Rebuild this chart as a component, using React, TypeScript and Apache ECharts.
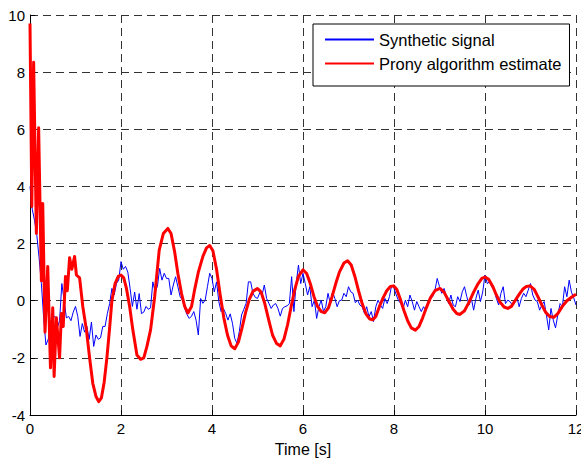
import React, { useEffect, useRef } from "react";
import * as echarts from "echarts";

const FONT = "'Liberation Sans', Arial, Helvetica, sans-serif";

const xTicks = [0, 2, 4, 6, 8, 10, 12];
const yTicks = [-4, -2, 0, 2, 4, 6, 8, 10];
const seriesNames = ["Synthetic signal", "Prony algorithm estimate"];
const seriesColors = ["#0000ff", "#ff0000"];

// Synthetic signal, sampled every 0.05 s from 0 to 12 s
const DT = 0.05;
const syntheticSignal = [
  // 0 - 1 s
  4.0, 3.2, 2.8, 2.3, 1.5, 0.6, -0.6, -1.55, -1.35, -1.0,
  -0.6, -0.55, -0.95, -0.7, 0.6, 0.0, -0.6, -0.55, -0.7, -0.4,
  // 1 - 2 s
  -0.2, -0.55, -1.25, -0.8, -1.1, -0.9, -1.35, -0.75, -1.6, -1.2,
  -1.35, -1.3, -0.9, -0.9, -0.45, -0.1, 0.43, 0.2, 0.6, 0.72,
  // 2 - 3 s
  1.37, 1.1, 1.2, 1.0, 0.43, -0.2, 0.3, -0.3, 0.25, -0.45,
  -0.4, -0.2, -0.3, -0.25, 0.66, 0.31, 0.5, 1.13, 0.72, 0.96,
  // 3 - 4 s
  0.78, 0.78, 0.2, 0.55, 0.84, 0.49, 0.14, 0.02, -0.27, -0.48,
  -0.62, -0.54, -0.38, -0.68, -1.2, 0.08, -0.09, 0.02, 0.49, 0.96,
  // 4 - 5 s
  0.78, 0.31, 0.66, -0.03, -0.38, -0.27, -0.44, -0.68, -0.46, -0.79,
  -1.32, -1.49, -1.08, -0.5, -0.3, -0.09, 0.66, 0.66, 0.26, 0.12,
  // 5 - 6 s
  0.08, 0.28, 0.2, 0.55, 0.08, -0.09, -0.27, -0.15, -0.1, -0.27,
  -0.54, -0.27, -0.21, -0.18, -0.1, 0.84, -0.38, 0.6, 1.25, 0.6,
  // 6 - 7 s
  0.96, 0.6, 0.2, 0.49, -0.21, 0.02, -0.62, -0.21, 0.02, -0.38,
  -0.21, 0.26, -0.1, 0.31, 0.08, -0.21, 0.0, 0.02, 0.26, 0.14,
  // 7 - 8 s
  0.49, 0.31, 0.26, -0.07, 0.02, -0.15, -0.21, -0.44, -0.21, -0.56,
  -0.38, -0.73, -0.21, 0.02, -0.15, -0.27, 0.08, -0.1, 0.14, 0.55,
  // 8 - 9 s
  0.43, 0.2, 0.0, -0.1, -0.27, 0.02, -0.21, 0.2, -0.03, -0.33,
  -0.03, -0.21, -0.38, -0.21, -0.33, -0.03, 0.08, 0.14, 0.37, 0.78,
  // 9 - 10 s
  0.49, 0.26, 0.43, 0.14, -0.1, 0.2, -0.15, -0.21, 0.14, -0.03,
  0.31, 0.49, 0.14, -0.15, 0.08, -0.33, 0.08, 0.37, -0.03, 0.31,
  // 10 - 11 s
  0.9, 0.6, 0.66, 0.49, 0.37, 0.08, -0.15, 0.26, 0.49, -0.1,
  0.02, -0.03, -0.15, 0.02, 0.14, -0.21, 0.08, 0.26, 0.14, 0.37,
  // 11 - 12 s
  0.6, 0.2, 0.02, -0.03, -0.33, -0.15, -0.03, -0.5, -1.02, -0.27,
  -0.68, -0.95, -0.5, -0.1, -0.21, 0.49, 0.14, 0.72, 0.3, 0.1,
  // 12 s
  -0.15,
];

// Prony estimate: [time s, value]
const pronyEstimate: [number, number][] = [
  [0.0, 9.7], [0.04, 3.3], [0.08, 8.35], [0.14, 2.35], [0.19, 6.05],
  [0.25, 0.7], [0.28, 3.4], [0.33, -1.1], [0.39, 1.2], [0.45, -2.35],
  [0.5, -0.25], [0.53, -2.65], [0.58, -0.6], [0.65, -2.0], [0.69, -0.45],
  [0.73, -0.9], [0.78, 0.85], [0.82, 0.35], [0.87, 1.5], [0.92, 1.1],
  [0.98, 1.55], [1.02, 0.9], [1.09, 0.8], [1.16, -0.2], [1.24, -1.02],
  [1.31, -2.0], [1.38, -2.89], [1.45, -3.35], [1.51, -3.53], [1.57, -3.4],
  [1.63, -2.85], [1.69, -2.0], [1.75, -0.95], [1.8, 0.0], [1.87, 0.6],
  [1.94, 0.85], [2.0, 0.9], [2.06, 0.8], [2.12, 0.43], [2.19, -0.2],
  [2.26, -1.02], [2.35, -1.9], [2.43, -2.05], [2.5, -2.0], [2.57, -1.6],
  [2.65, -1.02], [2.74, 0.14], [2.84, 1.77], [2.93, 2.35], [3.03, 2.53],
  [3.1, 2.35], [3.18, 1.7], [3.25, 0.95], [3.33, 0.25], [3.4, -0.2],
  [3.47, -0.43], [3.55, -0.2], [3.62, 0.4], [3.7, 1.0], [3.8, 1.55],
  [3.88, 1.85], [3.95, 1.93], [4.02, 1.75], [4.1, 1.1], [4.18, 0.2],
  [4.26, -0.6], [4.34, -1.2], [4.42, -1.58], [4.5, -1.68], [4.58, -1.45],
  [4.66, -0.95], [4.74, -0.4], [4.82, 0.05], [4.9, 0.33], [5.0, 0.43],
  [5.08, 0.3], [5.16, -0.1], [5.25, -0.7], [5.33, -1.2], [5.42, -1.5],
  [5.5, -1.58], [5.58, -1.35], [5.66, -0.85], [5.74, -0.2], [5.82, 0.4],
  [5.9, 0.85], [6.0, 1.08], [6.08, 0.95], [6.16, 0.6], [6.24, 0.15],
  [6.32, -0.2], [6.4, -0.38], [6.48, -0.42], [6.56, -0.25], [6.64, 0.15],
  [6.72, 0.6], [6.8, 1.0], [6.9, 1.32], [6.98, 1.4], [7.06, 1.25],
  [7.14, 0.85], [7.22, 0.35], [7.3, -0.1], [7.38, -0.45], [7.46, -0.63],
  [7.53, -0.67], [7.6, -0.55], [7.68, -0.2], [7.76, 0.1], [7.84, 0.35],
  [7.92, 0.5], [7.99, 0.52], [8.06, 0.4], [8.14, 0.05], [8.22, -0.35],
  [8.3, -0.7], [8.38, -0.95], [8.47, -1.03], [8.55, -0.9], [8.63, -0.6],
  [8.71, -0.25], [8.8, 0.1], [8.9, 0.35], [9.01, 0.43], [9.1, 0.3],
  [9.2, 0.0], [9.3, -0.3], [9.38, -0.45], [9.45, -0.48], [9.55, -0.35],
  [9.65, -0.05], [9.75, 0.3], [9.85, 0.6], [9.93, 0.78], [10.0, 0.83],
  [10.08, 0.75], [10.17, 0.5], [10.25, 0.2], [10.33, -0.05], [10.42, -0.22],
  [10.5, -0.27], [10.58, -0.2], [10.66, 0.0], [10.75, 0.22], [10.83, 0.4],
  [10.91, 0.5], [10.99, 0.52], [11.08, 0.4], [11.16, 0.15], [11.25, -0.15],
  [11.33, -0.4], [11.42, -0.55], [11.51, -0.58], [11.6, -0.45], [11.7, -0.2],
  [11.8, 0.0], [11.9, 0.12], [12.0, 0.23],
];

export default function App() {
  const ref = useRef<HTMLDivElement>(null);

  useEffect(() => {
    if (!ref.current) return;
    const chart = echarts.init(ref.current, undefined, { renderer: "svg" });

    const signalData = syntheticSignal.map((v, i) => [Number((i * DT).toFixed(2)), v]);

    const gridLine = {
      show: true,
      lineStyle: { color: "#333333", width: 1, type: [8, 5] as number[] },
    };

    chart.setOption({
      animation: false,
      backgroundColor: "#ffffff",
      textStyle: { fontFamily: FONT },
      grid: {
        left: 30,
        right: 5,
        top: 15,
        bottom: 44,
        containLabel: false,
        outerBoundsMode: "none",
      },
      legend: {
        orient: "vertical",
        left: 313,
        top: 24,
        data: seriesNames,
        selectedMode: false,
        backgroundColor: "#ffffff",
        borderColor: "#000000",
        borderWidth: 1,
        borderRadius: 0,
        padding: [7, 8, 14, 11],
        itemGap: 7,
        itemWidth: 49,
        itemHeight: 16,
        itemStyle: { opacity: 0 },
        textStyle: { fontSize: 16.5, fontFamily: FONT, color: "#000" },
        z: 10,
      },
      xAxis: {
        type: "value",
        min: xTicks[0],
        max: xTicks[xTicks.length - 1],
        interval: 2,
        name: "Time [s]",
        nameLocation: "middle",
        nameGap: 26,
        nameTextStyle: { fontSize: 16, fontFamily: FONT, color: "#000" },
        axisLine: { show: true, onZero: false, lineStyle: { color: "#000", width: 1 } },
        axisTick: { show: true, inside: true, length: 5, lineStyle: { color: "#000" } },
        axisLabel: { fontSize: 15, fontFamily: FONT, color: "#000", margin: 6 },
        splitLine: gridLine,
      },
      yAxis: {
        type: "value",
        min: yTicks[0],
        max: yTicks[yTicks.length - 1],
        interval: 2,
        axisLine: { show: true, onZero: false, lineStyle: { color: "#000", width: 1 } },
        axisTick: { show: true, inside: true, length: 5, lineStyle: { color: "#000" } },
        axisLabel: { fontSize: 15, fontFamily: FONT, color: "#000", margin: 5 },
        splitLine: gridLine,
      },
      series: [
        {
          name: seriesNames[0],
          type: "line",
          data: signalData,
          symbol: "none",
          showSymbol: false,
          lineStyle: { color: seriesColors[0], width: 1 },
          itemStyle: { color: seriesColors[0] },
          z: 2,
        },
        {
          name: seriesNames[1],
          type: "line",
          data: pronyEstimate,
          symbol: "none",
          showSymbol: false,
          lineStyle: { color: seriesColors[1], width: 3, join: "round" },
          itemStyle: { color: seriesColors[1] },
          z: 3,
        },
      ],
    });

    return () => chart.dispose();
  }, []);

  return (
    <div
      ref={ref}
      style={{ position: "fixed", left: 0, top: 0, width: 581, height: 459 }}
    />
  );
}
